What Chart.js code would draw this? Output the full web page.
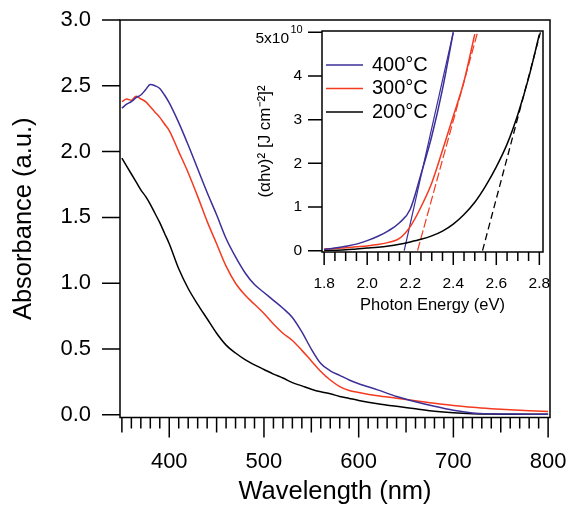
<!DOCTYPE html>
<html>
<head>
<meta charset="utf-8">
<script src="https://cdn.jsdelivr.net/npm/chart.js@4.4.0/dist/chart.umd.min.js"></script>
<style>
  html, body { margin: 0; padding: 0; background: #fff; }
  #wrap { position: relative; width: 569px; height: 505px; overflow: hidden; }
  #mainChart { position: absolute; left: 0; top: 0; }
  #insetChart { position: absolute; left: 240px; top: 10px; }
</style>
</head>
<body>
<div id="wrap">
  <canvas id="mainChart" width="569" height="505"></canvas>
  <canvas id="insetChart" width="315" height="310"></canvas>
</div>
<script>
// Main panel: absorbance spectra
const wavelengths = [350, 355, 360, 365, 370, 375, 380, 385, 390, 395, 400,
  410, 420, 430, 440, 450, 460, 470, 480, 490, 500, 510, 520, 530, 540, 550, 560, 570, 580, 590, 600,
  620, 640, 660, 680, 700, 720, 740, 760, 780, 800];
const abs400 = [2.33, 2.36, 2.38, 2.41, 2.43, 2.47, 2.51, 2.50, 2.48, 2.43, 2.37,
  2.22, 2.05, 1.87, 1.69, 1.52, 1.34, 1.20, 1.08, 0.99, 0.93, 0.87, 0.81, 0.74, 0.63, 0.50, 0.39, 0.335, 0.30, 0.265, 0.237,
  0.19, 0.14, 0.10, 0.065, 0.035, 0.015, 0.008, 0.006, 0.005, 0.005];
const abs300 = [2.38, 2.40, 2.39, 2.42, 2.40, 2.38, 2.34, 2.30, 2.26, 2.21, 2.16,
  2.00, 1.84, 1.66, 1.47, 1.30, 1.13, 1.00, 0.91, 0.84, 0.77, 0.69, 0.62, 0.565, 0.49, 0.41, 0.33, 0.265, 0.215, 0.185, 0.17,
  0.145, 0.127, 0.108, 0.088, 0.072, 0.058, 0.047, 0.038, 0.031, 0.025];
const abs200 = [1.95, 1.89, 1.83, 1.77, 1.71, 1.66, 1.60, 1.53, 1.46, 1.38, 1.30,
  1.11, 0.96, 0.84, 0.73, 0.62, 0.53, 0.47, 0.42, 0.38, 0.345, 0.31, 0.28, 0.245, 0.22, 0.195, 0.175, 0.16, 0.14, 0.125, 0.11,
  0.085, 0.065, 0.047, 0.028, 0.016, 0.009, 0.006, 0.005, 0.004, 0.004];
const xTicks = [400, 500, 600, 700, 800];
const yTicks = [0, 0.5, 1.0, 1.5, 2.0, 2.5, 3.0];

// Inset: Tauc plot, (alpha h nu)^2 in units of 1e10
const energy400 = [1.80, 1.85, 1.90, 1.95, 2.00, 2.05, 2.10, 2.15, 2.20, 2.25, 2.30, 2.35, 2.40];
const tauc400 = [0.03, 0.06, 0.10, 0.15, 0.23, 0.33, 0.46, 0.64, 0.95, 1.75, 2.62, 3.70, 5.00];
const energy300 = [1.80, 1.85, 1.90, 1.95, 2.00, 2.05, 2.10, 2.15, 2.20, 2.25, 2.30, 2.35, 2.40, 2.45, 2.50];
const tauc300 = [0.04, 0.05, 0.07, 0.09, 0.11, 0.14, 0.19, 0.28, 0.55, 1.00, 1.55, 2.30, 3.08, 3.88, 4.96];
const energy200 = [1.80, 1.85, 1.90, 1.95, 2.00, 2.05, 2.10, 2.15, 2.20, 2.25, 2.30, 2.35, 2.40, 2.45, 2.50,
  2.55, 2.60, 2.65, 2.70, 2.75, 2.80];
const tauc200 = [0.01, 0.01, 0.02, 0.04, 0.06, 0.08, 0.11, 0.15, 0.20, 0.26, 0.34, 0.45, 0.61, 0.83, 1.11,
  1.48, 1.92, 2.44, 3.12, 3.95, 4.95];
// linear fits (start and end points)
const fit400E = [2.172, 2.40];
const fit400T = [0, 5];
const fit300E = [2.234, 2.513];
const fit300T = [0, 5];
const fit200E = [2.536, 2.805];
const fit200T = [0, 5];
const insetXTicks = [1.8, 2.0, 2.2, 2.4, 2.6, 2.8];
const insetYTicks = [0, 1, 2, 3, 4, 5];

const blue = '#3b2f98';
const red = '#f43a1f';
const black = '#000000';
const fontFamily = "'Liberation Sans', Arial, sans-serif";

Chart.defaults.font.family = fontFamily;
Chart.defaults.color = '#000';

function toPoints(xs, ys) {
  return xs.map((x, i) => ({ x: x, y: ys[i] }));
}

function isMultiple(v, step) {
  const r = v / step;
  return Math.abs(r - Math.round(r)) < 1e-6;
}

// fixed axis box sizes, no extra label padding
function fixX(h) {
  return s => { s.height = h; s.paddingLeft = 0; s.paddingRight = 0; };
}
function fixY(w) {
  return s => { s.width = w; s.paddingTop = 0; s.paddingBottom = 0; };
}

// frame + Igor-style tick marks
const igorAxes = {
  id: 'igorAxes',
  afterDraw(chart, args, o) {
    const { ctx, chartArea: a, scales: { x, y } } = chart;
    ctx.save();
    ctx.strokeStyle = '#000';
    ctx.lineWidth = o.lineWidth;
    ctx.strokeRect(a.left, a.top, a.right - a.left, a.bottom - a.top);
    ctx.beginPath();
    const n = Math.round((o.xTo - o.xFrom) / o.xMinor);
    for (let i = 0; i <= n; i++) {
      const v = o.xFrom + i * o.xMinor;
      let len = o.minorLen;
      if (isMultiple(v, o.xMajor)) len = o.majorLen;
      else if (o.xMid && isMultiple(v, o.xMid)) len = o.midLen;
      const px = x.getPixelForValue(v);
      ctx.moveTo(px, a.bottom);
      ctx.lineTo(px, a.bottom + len);
    }
    o.yValues.forEach(v => {
      const py = y.getPixelForValue(v);
      ctx.moveTo(a.left, py);
      ctx.lineTo(a.left - o.yLen, py);
    });
    ctx.stroke();
    ctx.restore();
  }
};

// legend and the "5x10^10" top label of the inset
const insetExtras = {
  id: 'insetExtras',
  afterDraw(chart, args, o) {
    const { ctx, chartArea: a, scales: { y } } = chart;
    ctx.save();
    ctx.fillStyle = '#000';
    ctx.textBaseline = 'middle';
    ctx.font = o.fontSize + 'px ' + fontFamily;
    chart.data.datasets.filter(d => !d.isFit).forEach((d, i) => {
      const yy = a.top + o.top + i * o.rowGap;
      ctx.strokeStyle = d.borderColor;
      ctx.lineWidth = 1.6;
      ctx.beginPath();
      ctx.moveTo(a.left + o.lineFrom, yy);
      ctx.lineTo(a.left + o.lineTo, yy);
      ctx.stroke();
      ctx.fillText(d.label, a.left + o.textX, yy);
    });
    // top tick label with exponent
    const py = y.getPixelForValue(o.topValue);
    ctx.textAlign = 'right';
    ctx.font = '15.5px ' + fontFamily;
    ctx.fillText(o.topValue + 'x10', a.left - 33, py + 6.5);
    ctx.textAlign = 'left';
    ctx.font = '11px ' + fontFamily;
    ctx.fillText(o.exponent, a.left - 31.5, py - 2.5);
    ctx.restore();
  }
};

const mainCtx = document.getElementById('mainChart').getContext('2d');
const mainChart = new Chart(mainCtx, {
  type: 'line',
  data: {
    datasets: [
      { label: '400°C', data: toPoints(wavelengths, abs400), borderColor: blue },
      { label: '300°C', data: toPoints(wavelengths, abs300), borderColor: red },
      { label: '200°C', data: toPoints(wavelengths, abs200), borderColor: black }
    ]
  },
  options: {
    responsive: false,
    animation: false,
    devicePixelRatio: 1,
    layout: { padding: { top: 20, right: 19, left: 0, bottom: 0 } },
    elements: { point: { radius: 0 }, line: { borderWidth: 1.5, cubicInterpolationMode: 'monotone' } },
    plugins: {
      legend: { display: false },
      tooltip: { enabled: false },
      igorAxes: {
        lineWidth: 1.5,
        xFrom: 350, xTo: 800, xMinor: 10, xMid: 50, xMajor: 100,
        minorLen: 11, midLen: 15, majorLen: 20,
        yValues: yTicks, yLen: 18
      }
    },
    scales: {
      x: {
        type: 'linear', min: 348, max: 802,
        afterFit: fixX(87.5),
        afterBuildTicks: s => { s.ticks = xTicks.map(v => ({ value: v })); },
        grid: { display: false, drawTicks: false },
        border: { display: false },
        ticks: { padding: 31, font: { size: 22 }, maxRotation: 0, autoSkip: false, callback: v => String(v) },
        title: { display: true, text: 'Wavelength (nm)', font: { size: 25.5, lineHeight: 1 }, padding: { top: 0, bottom: 0 } }
      },
      y: {
        min: -0.02, max: 3.0,
        afterFit: fixY(120),
        afterBuildTicks: s => { s.ticks = yTicks.map(v => ({ value: v })); },
        grid: { display: false, drawTicks: false },
        border: { display: false },
        ticks: { padding: 29, font: { size: 22 }, autoSkip: false, callback: v => v.toFixed(1) },
        title: { display: true, text: 'Absorbance (a.u.)', font: { size: 25.5, lineHeight: 1 }, padding: { top: 11, bottom: 0 } }
      }
    }
  },
  plugins: [igorAxes]
});

const insetCtx = document.getElementById('insetChart').getContext('2d');
const insetChart = new Chart(insetCtx, {
  type: 'line',
  data: {
    datasets: [
      { label: '400°C', data: toPoints(energy400, tauc400), borderColor: blue },
      { label: '300°C', data: toPoints(energy300, tauc300), borderColor: red },
      { label: '200°C', data: toPoints(energy200, tauc200), borderColor: black },
      { label: 'fit 400', isFit: true, data: toPoints(fit400E, fit400T), borderColor: blue, borderWidth: 1.2 },
      { label: 'fit 300', isFit: true, data: toPoints(fit300E, fit300T), borderColor: red, borderWidth: 1.2, borderDash: [9, 3] },
      { label: 'fit 200', isFit: true, data: toPoints(fit200E, fit200T), borderColor: black, borderWidth: 1.3, borderDash: [7, 4] }
    ]
  },
  options: {
    responsive: false,
    animation: false,
    devicePixelRatio: 1,
    layout: { padding: { top: 21, right: 12, left: 0, bottom: 0 } },
    elements: { point: { radius: 0 }, line: { borderWidth: 1.5, cubicInterpolationMode: 'monotone' } },
    plugins: {
      legend: { display: false },
      tooltip: { enabled: false },
      igorAxes: {
        lineWidth: 1.5,
        xFrom: 1.8, xTo: 2.8, xMinor: 0.05, xMid: null, xMajor: 0.2,
        minorLen: 9, midLen: 9, majorLen: 13,
        yValues: insetYTicks, yLen: 14
      },
      insetExtras: { fontSize: 20, top: 34, rowGap: 23.5, lineFrom: 4, lineTo: 41, textX: 50, topValue: 5, exponent: '10' }
    },
    scales: {
      x: {
        type: 'linear', min: 1.79, max: 2.817,
        afterFit: fixX(68),
        afterBuildTicks: s => { s.ticks = insetXTicks.map(v => ({ value: v })); },
        grid: { display: false, drawTicks: false },
        border: { display: false },
        ticks: { padding: 22.5, font: { size: 15.5 }, maxRotation: 0, autoSkip: false, callback: v => v.toFixed(1) },
        title: { display: true, text: 'Photon Energy (eV)', font: { size: 16.5, lineHeight: 1 }, padding: { top: 0, bottom: 6.5 } }
      },
      y: {
        min: -0.03, max: 5.03,
        afterFit: fixY(82),
        afterBuildTicks: s => { s.ticks = insetYTicks.map(v => ({ value: v })); },
        grid: { display: false, drawTicks: false },
        border: { display: false },
        ticks: { padding: 20, font: { size: 15.5 }, autoSkip: false, callback: v => (v === 5 ? '' : String(v)) },
        title: { display: true, text: '(αhν)² [J cm⁻²]²', font: { size: 17, lineHeight: 1 }, padding: { top: 16.5, bottom: 0 } }
      }
    }
  },
  plugins: [igorAxes, insetExtras]
});
</script>
</body>
</html>
